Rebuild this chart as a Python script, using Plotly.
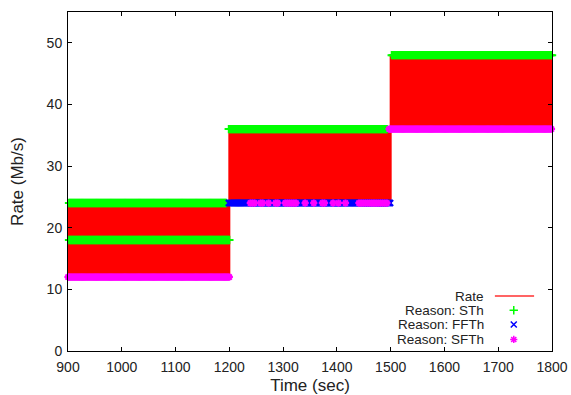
import plotly.graph_objects as go

# ---- data ----
seg_start = [900, 1200, 1500]
seg_end = [1200, 1500, 1800]
rate_low = [12, 24, 36]
rate_high = [24, 36, 48]

# reason markers: (t_start, t_end, level)
sth_runs = [(902, 1194, 24), (902, 1200, 18), (1199, 1494, 36), (1502, 1800, 48)]
ffth_runs = [(1199, 1500, 24)]
sfth_runs = [(900, 1200, 12), (1497, 1800, 36)]
sfth_24_runs = [(1239, 1247), (1258, 1262), (1273, 1275), (1286, 1290),
                (1304, 1327), (1341, 1341), (1357, 1358), (1373, 1380),
                (1393, 1393), (1403, 1403), (1416, 1417), (1441, 1495)]

x_ticks = [900, 1000, 1100, 1200, 1300, 1400, 1500, 1600, 1700, 1800]
y_ticks = [0, 10, 20, 30, 40, 50]

# rate oscillates every second between the two levels of each segment
rate_t, rate_v = [], []
for s, e, lo, hi in zip(seg_start, seg_end, rate_low, rate_high):
    for i, t in enumerate(range(s, e + 1)):
        rate_t.append(t)
        rate_v.append(hi if i % 2 == 0 else lo)


def expand(runs, step=2):
    xs, ys = [], []
    for a, b, lvl in runs:
        t = a
        while t <= b:
            xs.append(t)
            ys.append(lvl)
            t += step
    return xs, ys


sx, sy = expand(sth_runs)
fx, fy = expand(ffth_runs)
mx, my = expand(sfth_runs)
m2x, m2y = expand([(a, b, 24) for a, b in sfth_24_runs], step=4)
mx += m2x
my += m2y

FONT = "Liberation Sans, Arial, sans-serif"
TXT = "#222222"
FS = 14

fig = go.Figure()
fig.add_trace(go.Scatter(x=rate_t, y=rate_v, mode="lines",
                         line=dict(color="#ff0000", width=2, shape="hv"), name="Rate",
                         showlegend=False))
fig.add_trace(go.Scatter(x=sx, y=sy, mode="markers", cliponaxis=False,
                         marker=dict(symbol="cross-thin", size=6,
                                     line=dict(color="#00ff00", width=2)),
                         name="Reason: STh", showlegend=False))
fig.add_trace(go.Scatter(x=fx, y=fy, mode="markers", cliponaxis=False,
                         marker=dict(symbol="x-thin", size=6,
                                     line=dict(color="#0000ff", width=2)),
                         name="Reason: FFTh", showlegend=False))
fig.add_trace(go.Scatter(x=mx, y=my, mode="markers", cliponaxis=False,
                         marker=dict(symbol="asterisk", size=6,
                                     line=dict(color="#ff00ff", width=2)),
                         name="Reason: SFTh", showlegend=False))

# ---- gnuplot-style key (text left, sample right) ----
key_labels = ["Rate", "Reason: STh", "Reason: FFTh", "Reason: SFTh"]
key_y = [0.162, 0.120, 0.078, 0.034]
for lab, yy in zip(key_labels, key_y):
    fig.add_annotation(x=0.862, y=yy, xref="x2", yref="y2", text=lab,
                       showarrow=False, xanchor="right", yanchor="middle",
                       borderpad=0,
                       font=dict(family=FONT, size=13.5, color=TXT))
fig.add_trace(go.Scatter(x=[0.882, 0.963], y=[key_y[0], key_y[0]], xaxis="x2", yaxis="y2",
                         mode="lines", line=dict(color="#ff3030", width=1.5),
                         showlegend=False, hoverinfo="skip"))
key_sym = [("cross-thin", "#00ff00"), ("x-thin", "#0000ff"), ("asterisk", "#ff00ff")]
for (sym, col), yy in zip(key_sym, key_y[1:]):
    fig.add_trace(go.Scatter(x=[0.921], y=[yy], xaxis="x2", yaxis="y2", mode="markers",
                             marker=dict(symbol=sym, size=6, line=dict(color=col, width=1.5)),
                             showlegend=False, hoverinfo="skip"))

fig.update_layout(
    width=571, height=395,
    margin=dict(l=68, r=19, t=12, b=44),
    paper_bgcolor="white", plot_bgcolor="white",
    font=dict(family=FONT, size=FS, color=TXT),
    showlegend=False,
    xaxis=dict(range=[900, 1800], tickvals=x_ticks, ticks="inside", ticklen=4,
               tickcolor="black", showline=True, linecolor="black", linewidth=1,
               mirror="ticks", showgrid=False, zeroline=False, automargin=False,
               ticklabelstandoff=3,
               title=dict(text="Time (sec)", standoff=7),
               tickfont=dict(size=FS)),
    yaxis=dict(range=[0, 55], tickvals=y_ticks, ticks="inside", ticklen=4,
               tickcolor="black", showline=True, linecolor="black", linewidth=1,
               mirror="ticks", showgrid=False, zeroline=False, automargin=False,
               ticklabelstandoff=2,
               title=dict(text="Rate (Mb/s)", standoff=18),
               tickfont=dict(size=FS)),
    xaxis2=dict(overlaying="x", range=[0, 1], visible=False, fixedrange=True),
    yaxis2=dict(overlaying="y", range=[0, 1], visible=False, fixedrange=True),
)

fig.write_html("out.html", config={"displayModeBar": False},
               post_script="document.body.style.margin='0';document.body.style.overflow='hidden';")
